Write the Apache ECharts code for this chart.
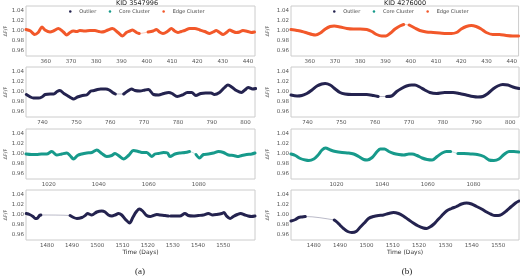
<!DOCTYPE html>
<html>
<head>
<meta charset="utf-8">
<script src="https://cdn.jsdelivr.net/npm/echarts@6/dist/echarts.min.js"></script>
<style>
html, body { margin: 0; padding: 0; background: #fff; }
#chart { width: 520px; height: 277px; }
</style>
</head>
<body>
<div id="chart"></div>
<script>
// column titles and legend
const titles = ['KID 3547996', 'KID 4276000']
const legendNames = ['Outlier', 'Core Cluster', 'Edge Cluster']
const yTicks = [0.96, 0.98, 1.00, 1.02, 1.04]

// x tick labels, one list per panel
const ticksA1 = [360, 370, 380, 390, 400, 410, 420, 430, 440]
const ticksA2 = [740, 750, 760, 770, 780, 790, 800]
const ticksA3 = [1020, 1040, 1060, 1080]
const ticksA4 = [1480, 1490, 1500, 1510, 1520, 1530, 1540, 1550]
const ticksB1 = [360, 370, 380, 390, 400, 410, 420, 430, 440]
const ticksB2 = [740, 750, 760, 770, 780, 790, 800]
const ticksB3 = [1020, 1040, 1060, 1080]
const ticksB4 = [1480, 1490, 1500, 1510, 1520, 1530, 1540, 1550]

// light curves [time, flux], null = gap in data
const curveA1 = [[352.2,1.003],[354.0,1.000],[355.0,0.995],[355.6,0.993],[357.0,0.997],[358.5,1.008],[359.7,1.002],[361.7,0.998],[363.0,1.000],[365.0,1.005],[367.0,0.998],[368.3,0.992],[369.6,0.997],[370.9,1.000],[372.2,0.999],[373.5,1.001],[375.5,1.000],[377.5,1.001],[379.5,1.001],[381.0,0.999],[382.0,0.998],[383.3,0.999],[384.6,1.002],[386.4,1.005],[388.6,0.997],[390.4,0.990],[391.9,0.997],[393.3,1.000],[394.3,1.002],[395.9,0.997],[397.0,0.995],[398.7,null],[400.5,0.998],[402.5,1.000],[403.8,1.003],[405.0,0.998],[406.4,0.995],[408.4,1.000],[409.7,1.005],[411.0,1.000],[412.3,0.997],[413.6,0.999],[415.0,1.001],[417.0,1.005],[419.0,1.005],[421.0,1.002],[422.9,0.999],[424.9,0.995],[426.2,0.998],[427.5,1.001],[428.8,0.997],[430.2,0.993],[431.5,0.997],[432.8,1.002],[434.1,0.999],[435.4,0.997],[436.7,0.998],[438.0,1.001],[440.0,0.999],[441.3,0.997],[442.6,0.998]]
const curveA2 = [[735.2,0.995],[736.4,0.990],[737.3,0.988],[738.8,0.988],[739.8,0.990],[740.8,0.995],[742.3,0.996],[743.3,0.996],[744.3,1.001],[745.1,1.003],[746.3,0.997],[747.3,0.993],[748.5,0.988],[749.1,0.986],[750.3,0.990],[751.8,0.993],[753.0,0.994],[754.3,1.002],[755.3,1.003],[756.2,1.005],[757.2,1.006],[758.7,1.006],[759.7,1.004],[760.7,0.999],[761.5,0.996],[762.8,null],[764.0,0.996],[765.2,1.002],[766.3,1.006],[767.3,1.003],[768.8,1.002],[770.3,1.004],[771.3,1.005],[772.8,0.995],[774.3,0.994],[775.8,0.997],[777.3,0.999],[778.3,0.997],[779.8,0.991],[781.3,0.994],[782.8,0.999],[784.1,0.999],[785.3,0.993],[786.8,0.997],[788.2,0.998],[789.8,0.998],[790.8,0.995],[792.3,0.999],[793.8,1.009],[794.8,1.014],[796.1,1.009],[797.3,1.003],[798.8,0.999],[799.8,1.004],[800.8,1.009],[802.1,1.006],[803.0,1.007]]
const curveA3 = [[1010.9,1.000],[1013.1,0.999],[1015.1,0.999],[1017.1,1.000],[1019.2,1.000],[1021.2,1.005],[1023.2,0.998],[1025.2,1.000],[1027.2,1.002],[1028.5,0.997],[1029.9,0.990],[1031.5,0.997],[1033.2,1.000],[1035.2,1.002],[1037.2,1.003],[1039.2,1.008],[1041.2,1.001],[1043.2,0.995],[1045.2,0.997],[1046.5,1.001],[1047.9,0.997],[1049.9,0.990],[1051.9,0.997],[1053.9,1.007],[1055.9,1.005],[1057.2,1.003],[1059.2,1.003],[1061.2,0.995],[1062.5,1.000],[1063.9,1.001],[1065.9,1.003],[1067.5,1.002],[1068.5,0.995],[1070.5,1.000],[1072.5,1.002],[1074.5,1.003],[1076.3,1.005],[1077.6,null],[1078.9,0.999],[1080.3,0.992],[1081.9,0.999],[1083.9,1.000],[1085.9,1.002],[1087.9,1.005],[1089.9,1.003],[1091.9,0.998],[1093.9,0.997],[1095.9,0.995],[1097.2,0.997],[1099.2,0.999],[1101.2,1.000],[1102.5,1.002]]
const curveA4 = [[1471.8,1.003],[1473.1,1.001],[1474.5,0.997],[1475.4,0.993],[1476.0,0.993],[1477.1,0.999],[1477.6,1.000],[1483.0,null],[1489.2,0.999],[1490.6,0.995],[1491.9,0.993],[1493.9,0.995],[1495.2,0.999],[1496.1,1.003],[1497.8,1.000],[1499.8,1.006],[1501.8,1.008],[1503.1,1.006],[1504.4,1.000],[1505.8,0.998],[1507.1,1.000],[1508.4,1.003],[1509.7,1.000],[1511.4,0.990],[1512.8,0.984],[1514.1,0.995],[1515.4,1.006],[1516.7,1.012],[1518.0,1.008],[1519.6,0.999],[1521.0,0.997],[1522.3,0.999],[1523.6,1.001],[1524.9,1.000],[1526.9,0.999],[1528.2,0.998],[1528.6,null],[1529.1,0.998],[1530.9,0.998],[1532.8,0.998],[1534.8,1.003],[1536.1,0.999],[1538.1,0.998],[1540.1,0.999],[1542.1,1.000],[1544.1,1.003],[1545.8,1.000],[1547.4,1.001],[1549.4,1.003],[1550.3,1.005],[1551.3,0.998],[1552.7,0.993],[1554.0,0.997],[1555.6,1.001],[1556.9,1.003],[1558.6,1.000],[1559.9,0.998],[1561.2,0.997],[1562.6,0.998]]
const curveB1 = [[352.6,1.003],[355.0,1.001],[357.0,0.999],[359.0,0.996],[361.0,0.993],[362.3,0.992],[364.2,0.996],[366.2,1.004],[368.1,1.009],[369.7,1.010],[372.1,1.008],[374.7,1.005],[377.3,1.004],[380.0,1.004],[382.6,1.003],[384.6,0.999],[386.5,0.993],[388.5,0.990],[390.2,0.990],[392.0,0.996],[393.8,1.004],[395.7,1.010],[397.2,1.013],[398.3,null],[399.4,1.012],[401.6,1.006],[403.6,1.001],[406.2,0.998],[408.9,0.997],[411.5,0.996],[414.1,0.995],[416.1,0.995],[418.1,0.997],[420.0,1.004],[422.0,1.009],[424.0,1.011],[425.9,1.009],[427.9,1.004],[429.9,0.997],[432.5,0.993],[435.1,0.993],[437.8,0.991],[440.4,0.990],[442.7,0.990]]
const curveB2 = [[735.1,0.994],[736.9,0.992],[738.3,0.993],[739.8,0.997],[741.3,1.004],[742.8,1.012],[744.2,1.016],[745.2,1.017],[746.7,1.014],[748.2,1.006],[749.6,0.999],[751.1,0.996],[753.1,0.995],[755.5,0.995],[757.5,0.995],[759.5,0.993],[760.9,0.991],[762.2,null],[763.4,0.991],[764.9,0.992],[766.4,1.001],[767.8,1.007],[769.3,1.012],[770.8,1.014],[771.8,1.014],[773.2,1.010],[774.7,1.004],[776.2,0.999],[778.2,0.997],[780.6,0.999],[783.1,0.999],[785.0,0.997],[787.0,0.994],[789.0,0.991],[790.4,0.990],[791.9,0.991],[793.4,0.997],[794.9,1.006],[796.3,1.012],[797.8,1.015],[799.3,1.014],[800.8,1.010],[802.6,1.007]]
const curveB3 = [[1000.0,1.000],[1001.9,0.997],[1004.1,0.991],[1006.3,0.988],[1007.8,0.987],[1010.0,0.990],[1011.7,0.997],[1013.6,1.008],[1015.1,1.012],[1017.3,1.008],[1019.5,1.005],[1022.4,1.003],[1025.3,1.002],[1027.5,1.000],[1029.7,0.995],[1031.9,0.989],[1033.4,0.988],[1035.6,0.993],[1037.8,1.005],[1039.2,1.010],[1041.0,1.010],[1042.9,1.005],[1045.1,1.001],[1047.3,0.999],[1049.5,0.998],[1051.7,1.000],[1053.1,1.000],[1055.3,0.997],[1057.5,0.992],[1059.7,0.989],[1061.9,0.988],[1064.1,0.995],[1066.3,1.002],[1068.2,1.005],[1070.0,1.005],[1071.6,null],[1073.2,1.001],[1075.8,1.001],[1078.8,1.000],[1081.7,0.999],[1084.6,0.995],[1086.8,0.988],[1089.0,0.987],[1091.2,0.990],[1093.4,0.999],[1095.6,1.005],[1097.8,1.005],[1099.9,1.004]]
const curveB4 = [[1471.4,0.988],[1473.1,0.991],[1474.3,0.995],[1475.6,0.996],[1476.8,0.997],[1482.0,null],[1487.8,0.990],[1488.8,0.986],[1490.1,0.979],[1491.3,0.973],[1492.9,0.967],[1494.5,0.965],[1496.1,0.967],[1497.7,0.976],[1499.2,0.984],[1500.8,0.993],[1502.7,0.997],[1504.6,0.999],[1506.5,1.000],[1508.4,1.003],[1510.3,1.005],[1512.2,1.003],[1514.0,0.998],[1515.9,0.991],[1517.8,0.984],[1519.7,0.978],[1521.6,0.974],[1522.9,0.973],[1524.1,0.976],[1525.4,0.981],[1526.7,0.988],[1528.5,0.998],[1530.4,1.008],[1532.3,1.013],[1534.2,1.017],[1536.1,1.022],[1538.0,1.024],[1539.9,1.022],[1541.8,1.017],[1543.7,1.012],[1545.6,1.006],[1547.5,1.001],[1548.8,0.999],[1550.0,0.999],[1551.3,1.001],[1553.1,1.008],[1555.0,1.017],[1556.6,1.024],[1557.9,1.028]]

const clusterColors = {
    'Outlier': '#24234f',
    'Core Cluster': '#179a8b',
    'Edge Cluster': '#f2582a'
}

// column 0 = (a), column 1 = (b); rows top to bottom
const panels = [
    { col: 0, row: 0, curve: curveA1, ticks: ticksA1, min: 352.2, max: 442.8, cluster: 'Edge Cluster' },
    { col: 0, row: 1, curve: curveA2, ticks: ticksA2, min: 735.1, max: 802.8, cluster: 'Outlier' },
    { col: 0, row: 2, curve: curveA3, ticks: ticksA3, min: 1010.9, max: 1102.5, cluster: 'Core Cluster' },
    { col: 0, row: 3, curve: curveA4, ticks: ticksA4, min: 1471.7, max: 1562.6, cluster: 'Outlier' },
    { col: 1, row: 0, curve: curveB1, ticks: ticksB1, min: 352.6, max: 442.7, cluster: 'Edge Cluster' },
    { col: 1, row: 1, curve: curveB2, ticks: ticksB2, min: 735.1, max: 802.6, cluster: 'Outlier' },
    { col: 1, row: 2, curve: curveB3, ticks: ticksB3, min: 1000.0, max: 1100.0, cluster: 'Core Cluster' },
    { col: 1, row: 3, curve: curveB4, ticks: ticksB4, min: 1471.4, max: 1557.9, cluster: 'Outlier' }
]

const rowTop = [6, 67, 129, 190]
const colLeft = [26, 291]
const colWidth = [229, 228]
const labelStyle = { fontSize: 5.5, color: '#555', fontFamily: 'DejaVu Sans' }

const chart = echarts.init(document.getElementById('chart'), null, { renderer: 'canvas' })

const grid = []
const xAxis = []
const yAxis = []
const series = []

panels.forEach((p, i) => {
    grid.push({
        left: colLeft[p.col],
        top: rowTop[p.row],
        width: colWidth[p.col],
        height: 50,
        show: true,
        borderColor: '#cccccc',
        borderWidth: 1,
        backgroundColor: '#fff'
    })
    const bottom = p.row === 3
    xAxis.push({
        type: 'value',
        gridIndex: i,
        min: p.min,
        max: p.max,
        axisLine: { show: false },
        axisTick: { show: false },
        splitLine: { show: false },
        axisLabel: { ...labelStyle, margin: 3, customValues: p.ticks, formatter: v => String(v) },
        name: bottom ? 'Time (Days)' : '',
        nameLocation: 'middle',
        nameGap: 9,
        nameTextStyle: { fontSize: 6, color: '#333', fontFamily: 'DejaVu Sans' }
    })
    yAxis.push({
        type: 'value',
        gridIndex: i,
        min: 0.95,
        max: 1.05,
        axisLine: { show: false },
        axisTick: { show: false },
        splitLine: { show: false },
        axisLabel: {
            ...labelStyle,
            margin: 2,
            customValues: yTicks,
            formatter: v => v.toFixed(2)
        },
        name: 'ΔF/F',
        nameLocation: 'middle',
        nameRotate: 90,
        nameGap: p.col === 0 ? 17 : 21,
        nameTextStyle: { fontSize: 5, color: '#555', fontFamily: 'DejaVu Sans' }
    })
    const color = clusterColors[p.cluster]
    // thin line bridging the gaps
    series.push({
        type: 'line',
        xAxisIndex: i,
        yAxisIndex: i,
        data: p.curve.filter(d => d[1] !== null),
        showSymbol: false,
        silent: true,
        smooth: 0.3,
        lineStyle: { color: color, width: 0.7, opacity: 0.45 },
        z: 1
    })
    // thick light curve
    series.push({
        name: p.cluster,
        type: 'line',
        xAxisIndex: i,
        yAxisIndex: i,
        data: p.curve.map(d => [d[0], d[1] === null ? '-' : d[1]]),
        showSymbol: false,
        smooth: 0.3,
        itemStyle: { color: color },
        lineStyle: { color: color, width: 3, cap: 'round', join: 'round' },
        z: 2
    })
})

// empty series so every legend entry exists with its colour
legendNames.forEach(n => {
    series.push({ name: n, type: 'scatter', xAxisIndex: 0, yAxisIndex: 0, data: [], itemStyle: { color: clusterColors[n] } })
})

const legendBase = {
    data: legendNames,
    icon: 'circle',
    itemWidth: 8,
    itemHeight: 2.5,
    itemGap: 12.5,
    padding: 0,
    top: 9,
    textStyle: { fontSize: 5, color: '#444', fontFamily: 'DejaVu Sans' }
}

const textStyle = (text, font) => ({ text: text, font: font, fill: '#222', align: 'center', verticalAlign: 'middle' })

const option = {
    animation: false,
    backgroundColor: '#fff',
    grid: grid,
    xAxis: xAxis,
    yAxis: yAxis,
    legend: [
        { ...legendBase, left: 69 },
        { ...legendBase, left: 333 }
    ],
    graphic: [
        { type: 'text', x: 137, y: 3, style: textStyle(titles[0], '6.5px "DejaVu Sans"') },
        { type: 'text', x: 405, y: 3, style: textStyle(titles[1], '6.5px "DejaVu Sans"') },
        { type: 'text', x: 140, y: 272, style: textStyle('(a)', '9px "Liberation Serif"') },
        { type: 'text', x: 407, y: 272, style: textStyle('(b)', '9px "Liberation Serif"') }
    ],
    series: series
}

chart.setOption(option)
</script>
</body>
</html>
